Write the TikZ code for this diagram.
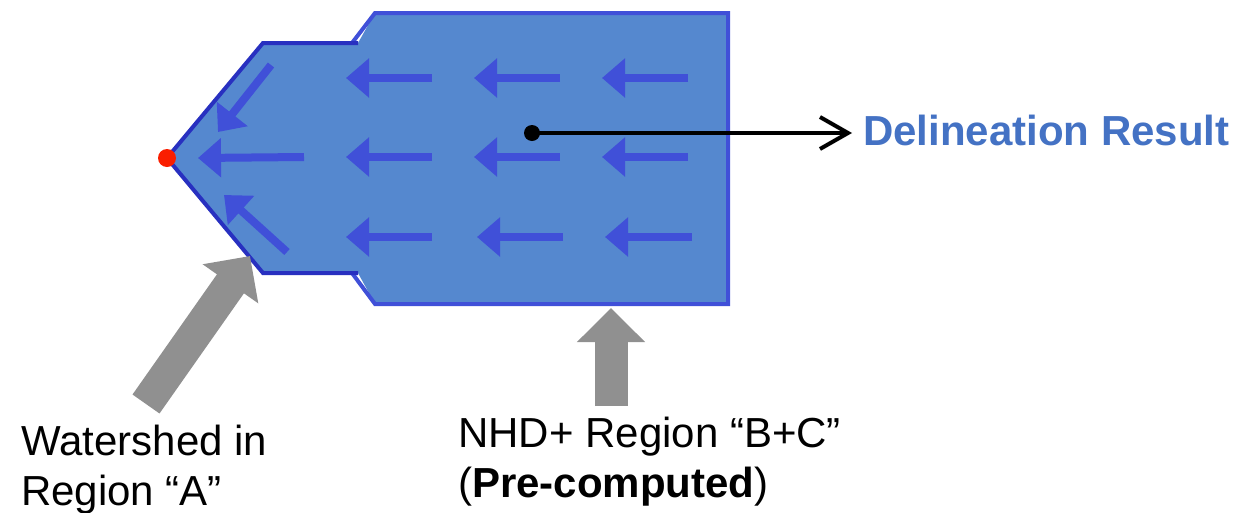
\documentclass[tikz,border=0pt]{standalone}
\usepackage{fontspec}
\setmainfont{Liberation Sans}
\usetikzlibrary{arrows.meta}
\definecolor{regfill}{RGB}{85,136,207}
\definecolor{borderB}{RGB}{64,80,216}
\definecolor{borderA}{RGB}{40,48,192}
\definecolor{flowblue}{RGB}{64,80,216}
\definecolor{blockgray}{RGB}{144,144,144}
\definecolor{resblue}{RGB}{68,114,196}
\definecolor{outlet}{RGB}{250,30,0}
\tikzset{
  flow/.style={draw=flowblue, line width=8pt, -{Triangle[length=23pt,width=38pt]}},
  block/.style={draw=blockgray, line width=33pt, -{Triangle[length=34pt,width=66pt]}},
  label/.style={inner sep=0pt, font=\fontsize{42}{50}\selectfont, align=left},
}
\begin{document}
\begin{tikzpicture}[x=1pt,y=-1pt]
\useasboundingbox (0,0) rectangle (1243,512);
% region fill
\fill[regfill] (167,158) -- (263,43) -- (358,43) -- (375,13) -- (728,13) -- (728,304) -- (375,304) -- (358,273) -- (263,273) -- cycle;
% region B+C border
\draw[borderB, line width=4pt, line join=miter] (352,43) -- (375,13) -- (728,13) -- (728,304) -- (375,304) -- (352,273);
% region A border
\draw[borderA, line width=4pt, line join=miter] (358,43) -- (263,43) -- (167,158) -- (263,273) -- (358,273);
% flow arrows in region A
\coordinate (a1t) at (271,65);  \coordinate (a1h) at (218,132);
\coordinate (a2t) at (304,157); \coordinate (a2h) at (198,158);
\coordinate (a3t) at (287,252); \coordinate (a3h) at (224,195);
\draw[flow] (a1t) -- (a1h);
\draw[flow] (a2t) -- (a2h);
\draw[flow] (a3t) -- (a3h);
% flow arrows in region B+C
\foreach \y/\n in {78/1,157/2} {
  \coordinate (r\n c1t) at (432,\y); \coordinate (r\n c1h) at (346,\y);
  \coordinate (r\n c2t) at (560,\y); \coordinate (r\n c2h) at (474,\y);
  \coordinate (r\n c3t) at (688,\y); \coordinate (r\n c3h) at (602,\y);
  \draw[flow] (r\n c1t) -- (r\n c1h);
  \draw[flow] (r\n c2t) -- (r\n c2h);
  \draw[flow] (r\n c3t) -- (r\n c3h);
}
\coordinate (r3c1t) at (432,237); \coordinate (r3c1h) at (346,237);
\coordinate (r3c2t) at (563,237); \coordinate (r3c2h) at (477,237);
\coordinate (r3c3t) at (692,237); \coordinate (r3c3h) at (605,237);
\draw[flow] (r3c1t) -- (r3c1h);
\draw[flow] (r3c2t) -- (r3c2h);
\draw[flow] (r3c3t) -- (r3c3h);
% outlet point
\node[circle, fill=outlet, inner sep=0pt, minimum size=18pt] (outlet) at (167,158) {};
% delineation result
\node[circle, fill=black, inner sep=0pt, minimum size=16pt] (dot) at (532,133) {};
\node[label, anchor=base west, font=\fontsize{42}{50}\selectfont\bfseries, text=resblue] (res) at (863,145) {Delineation Result};
\coordinate (resend) at (852,133);
\draw[line width=4pt, -{Straight Barb[length=28pt,width=32pt,line width=4pt]}] (dot.center) -- (resend);
% gray block arrows
\coordinate (g1t) at (146,404); \coordinate (g1h) at (250,256);
\draw[block] (g1t) -- (g1h);
\coordinate (g2t) at (611,406); \coordinate (g2h) at (611,308);
\draw[block] (g2t) -- (g2h);
% labels
\node[label, anchor=base west] (labA) at (21,505) {Watershed in\\Region “A”};
\node[label, anchor=base west] (labB) at (458,497) {NHD+ Region “B+C”\\(\textbf{Pre-computed})};
\end{tikzpicture}
\end{document}
